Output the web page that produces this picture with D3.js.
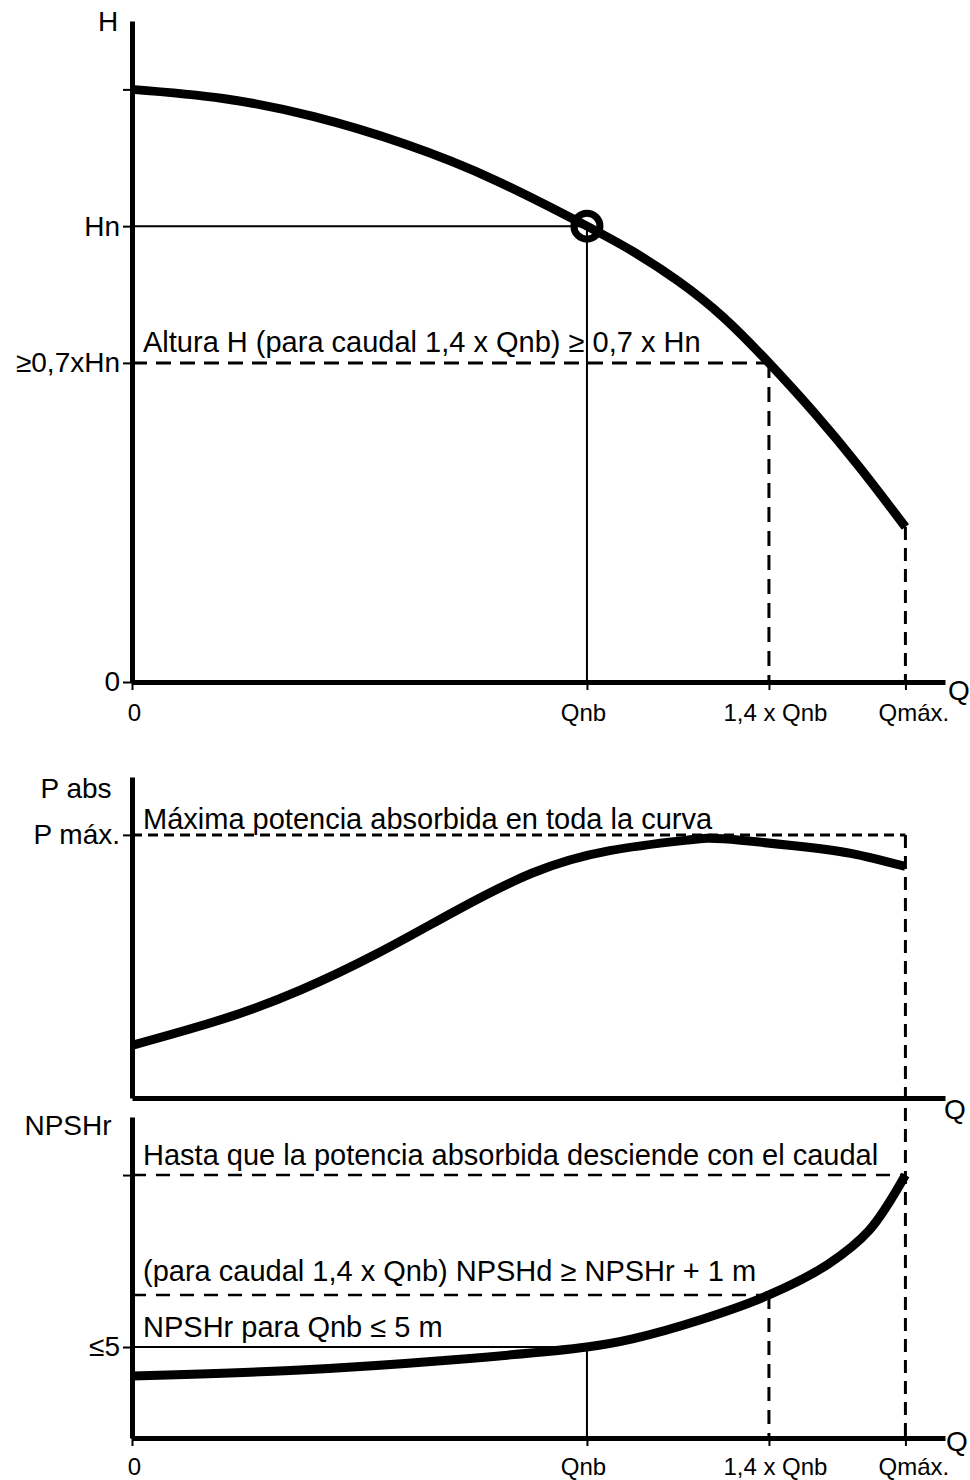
<!DOCTYPE html>
<html>
<head>
<meta charset="utf-8">
<script src="https://cdn.jsdelivr.net/npm/d3@7"></script>
<style>
  body { margin: 0; background: #fff; }
  svg text { font-family: "Liberation Sans", Arial, sans-serif; fill: #000; }
  .domain { stroke: #000; stroke-width: 5; }
  .tick line { stroke: #000; stroke-width: 2; }
</style>
</head>
<body>
<div id="vis-container"></div>
<script>
// Data
var qTicks = [0, 1, 1.4, 1.7]
var qTickLabels = ['0', 'Qnb', '1,4 x Qnb', 'Qmáx.']

// H curve (Q in Qnb units, H in Hn units)
var hQ =    [0, 0.2, 0.4, 0.6, 0.8, 1.0, 1.1, 1.2, 1.3, 1.4, 1.5, 1.6, 1.7]
var hVals = [1.30, 1.28, 1.24, 1.18, 1.10, 1.00, 0.945, 0.88, 0.80, 0.70, 0.59, 0.47, 0.34]
var hTicks = [0, 0.7, 1, 1.3]
var hTickLabels = ['0', '≥0,7xHn', 'Hn', '']

// P abs curve (P in P max units)
var pQ =    [0, 0.20, 0.37, 0.54, 0.71, 0.88, 1.05, 1.22, 1.30, 1.45, 1.58, 1.70]
var pVals = [0.20, 0.30, 0.41, 0.55, 0.71, 0.855, 0.94, 0.98, 0.985, 0.96, 0.93, 0.88]
var pTicks = [1]
var pTickLabels = ['P máx.']

// NPSHr curve (m)
var nQ =    [0, 0.37, 0.70, 1.00, 1.10, 1.25, 1.40, 1.53, 1.62, 1.70]
var nVals = [3.41, 3.74, 4.29, 5.0, 5.45, 6.5, 7.86, 9.55, 11.4, 14.45]
var nTicks = [5, 14.45]
var nTickLabels = ['≤5', '']
var nLevel14 = 7.86

var svg = d3.select('#vis-container').append('svg')
    .attr('width', 970)
    .attr('height', 1480)

// Scales
var xScale = d3.scaleLinear().domain([0, 1.787]).range([132, 945])
var yH = d3.scaleLinear().domain([0, 1.45]).range([682, 21])
var yP = d3.scaleLinear().domain([0, 1.22]).range([1098, 777])
var yN = d3.scaleLinear().domain([0, 17.64]).range([1438, 1117])

var line = function (ys, c) {
  return d3.line()
    .x(function (d) { return xScale(d[0]) })
    .y(function (d) { return ys(d[1]) })
    .curve(c)
}
var zip = function (a, b) { return a.map(function (v, i) { return [v, b[i]] }) }
var labelShift = [2, -4, 6, 8]

function guide(x1, y1, x2, y2, dash, w) {
  svg.append('line')
    .attr('x1', x1).attr('y1', y1).attr('x2', x2).attr('y2', y2)
    .attr('stroke', '#000')
    .attr('stroke-width', w || 2)
    .attr('stroke-dasharray', dash || null)
}
function label(x, y, txt, size, anchor) {
  svg.append('text')
    .attr('x', x).attr('y', y)
    .attr('text-anchor', anchor || 'start')
    .style('font-size', size + 'px')
    .text(txt)
}
function curve(q, v, ys, c) {
  svg.append('path')
    .datum(zip(q, v))
    .attr('d', line(ys, c || d3.curveNatural))
    .attr('fill', 'none')
    .attr('stroke', '#000')
    .attr('stroke-width', 9)
}
function yAxis(ys, ticks, labels) {
  svg.append('g')
    .attr('transform', 'translate(' + xScale(0) + ',0)')
    .call(d3.axisLeft(ys).tickValues(ticks).tickSize(9).tickSizeOuter(0).tickPadding(3)
      .tickFormat(function (d, i) { return labels[i] }))
    .selectAll('text').style('font-size', '28px')
}
function xAxis(y, ticks, pad) {
  var g = svg.append('g')
    .attr('transform', 'translate(0,' + y + ')')
    .call(d3.axisBottom(xScale).tickValues(ticks).tickSize(ticks.length ? 8 : 0).tickSizeOuter(0).tickPadding(pad)
      .tickFormat(function (d, i) { return qTickLabels[i] }))
  g.selectAll('text')
    .style('font-size', '24px')
    .attr('dx', function (d, i) { return labelShift[i] })
}

// ---------- Top: H ----------
guide(xScale(0), yH(1), xScale(1), yH(1))
guide(xScale(1), yH(1), xScale(1), yH(0))
guide(xScale(0), yH(0.7), xScale(1.4), yH(0.7), '15,9', 3)
guide(xScale(1.4), yH(0.7), xScale(1.4), yH(0), '15,9', 3)
guide(xScale(1.7), yH(hVals[hVals.length - 1]), xScale(1.7), yH(0), '13,8', 3)

curve(hQ, hVals, yH)

svg.append('circle')
  .attr('cx', xScale(1)).attr('cy', yH(1)).attr('r', 13)
  .attr('fill', 'none').attr('stroke', '#000').attr('stroke-width', 7)

yAxis(yH, hTicks, hTickLabels)
xAxis(yH(0), qTicks, 14)

label(108, 31, 'H', 28, 'middle')
label(948, 700, 'Q', 28)
label(143, 352, 'Altura H (para caudal 1,4 x Qnb) ≥ 0,7 x Hn', 29)

// ---------- Middle: P abs ----------
guide(xScale(0), yP(1), xScale(1.7), yP(1), '10,6', 3)
guide(xScale(1.7), yP(1), xScale(1.7), yN(0), '13,8', 3)

curve(pQ, pVals, yP)

yAxis(yP, pTicks, pTickLabels)
xAxis(yP(0), [], 0)

label(76, 798, 'P abs', 28, 'middle')
label(944, 1119, 'Q', 28)
label(143, 829, 'Máxima potencia absorbida en toda la curva', 29)

// ---------- Bottom: NPSHr ----------
guide(xScale(0), yN(nTicks[1]), xScale(1.7), yN(nTicks[1]), '14,10', 2.5)
guide(xScale(0), yN(nLevel14), xScale(1.4), yN(nLevel14), '14,10', 2.5)
guide(xScale(1.4), yN(nLevel14), xScale(1.4), yN(0), '14,9', 3)
guide(xScale(0), yN(5), xScale(1), yN(5))
guide(xScale(1), yN(5), xScale(1), yN(0))

curve(nQ, nVals, yN, d3.curveCatmullRom.alpha(0.5))

yAxis(yN, nTicks, nTickLabels)
xAxis(yN(0), qTicks, 12)

label(68, 1135, 'NPSHr', 28, 'middle')
label(946, 1451, 'Q', 28)
label(143, 1165, 'Hasta que la potencia absorbida desciende con el caudal', 29)
label(143, 1281, '(para caudal 1,4 x Qnb) NPSHd ≥ NPSHr + 1 m', 29)
label(143, 1337, 'NPSHr para Qnb ≤ 5 m', 29)
</script>
</body>
</html>
